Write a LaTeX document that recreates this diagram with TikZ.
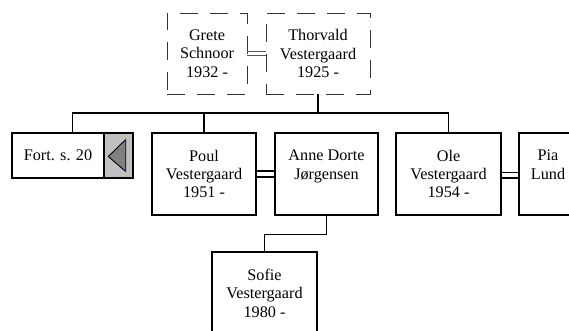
\documentclass[tikz,border=0pt]{standalone}
\usepackage{fontspec}
\setmainfont{Liberation Serif}
\begin{document}
\begin{tikzpicture}[x=1pt,y=-1pt,
  txt/.style={font=\fontsize{16.2}{18.4}\selectfont, align=center},
  person/.style={txt, draw, line width=1.3pt, inner sep=0pt, minimum height=82pt},
  dperson/.style={txt, draw=black!80, line width=0.9pt, dash pattern=on 18pt off 12pt, inner sep=0pt, minimum height=81pt},
  link/.style={line width=1.3pt},
  dbl/.style={line width=1.3pt},
  dblthin/.style={line width=0.8pt, draw=black!65}]
\useasboundingbox (0,0) rectangle (569,331);
\clip (0,0) rectangle (569,331);
% parents
\node[dperson, minimum width=80pt] (grete) at (207,53.5) {Grete\\Schnoor\\1932 -};
\node[dperson, minimum width=104pt] (thorvald) at (318,53.5) {Thorvald\\Vestergaard\\1925 -};
% continuation box
\node[draw, line width=1.3pt, minimum width=121pt, minimum height=45pt, inner sep=0pt] (fortbox) at (72.5,155.5) {};
\node[txt] (fortlabel) at (58,155.5) {Fort. s. 20};
\node[draw, line width=1.3pt, fill={rgb,255:red,192;green,192;blue,192}, minimum width=29pt, minimum height=45pt, inner sep=0pt] (btn) at (118.5,155.5) {};
\filldraw[fill={rgb,255:red,128;green,128;blue,128}, draw=black, line width=0.9pt, line join=miter] (108.3,156.5) -- (125.7,139.5) -- (125.7,171.5) -- cycle;
\draw[line width=0.8pt, draw={rgb,255:red,40;green,40;blue,110}] (125.7,139.5) -- (125.7,171.5);
% children
\node[person, minimum width=104pt] (poul) at (204,174) {Poul\\Vestergaard\\1951 -};
\node[person, minimum width=103pt] (anne) at (326.5,174) {Anne Dorte\\Jørgensen\\\mbox{}};
\node[person, minimum width=105pt] (ole) at (448.5,174) {Ole\\Vestergaard\\1954 -};
\node[person, minimum width=58pt] (pia) at (548,174) {Pia\\Lund\\\mbox{}};
\node[person, minimum width=105pt] (sofie) at (264.5,293) {Sofie\\Vestergaard\\1980 -};
% connectors
\coordinate (bus) at (318,113);
\draw[link] (thorvald.south) -- (bus);
\draw[link] (fortbox.north) |- (bus) -| (ole.north);
\draw[link] (poul.north) -- (poul.north |- bus);
\draw[link] (anne.south) -- ++(0,19) -| (sofie.north);
% marriage lines
\draw[dblthin] ([yshift=1.8pt]grete.east) -- ([yshift=1.8pt]grete.east -| thorvald.west);
\draw[dblthin] ([yshift=-1.5pt]grete.east) -- ([yshift=-1.5pt]grete.east -| thorvald.west);
\draw[dbl] ([yshift=3pt]poul.east) -- ([yshift=3pt]poul.east -| anne.west);
\draw[dbl] ([yshift=-3pt]poul.east) -- ([yshift=-3pt]poul.east -| anne.west);
\draw[dbl] ([yshift=1.3pt]ole.east) -- ([yshift=1.3pt]ole.east -| pia.west);
\draw[dbl] ([yshift=-4pt]ole.east) -- ([yshift=-4pt]ole.east -| pia.west);
\end{tikzpicture}
\end{document}
